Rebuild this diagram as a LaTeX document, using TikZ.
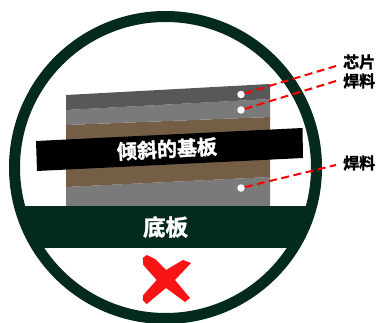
\documentclass[tikz,border=0pt]{standalone}
\usepackage{fontspec}
\setmainfont[FakeBold=1.6]{Noto Sans CJK SC Bold}
\definecolor{ringgreen}{HTML}{04291D}
\definecolor{chipgray}{HTML}{585858}
\definecolor{soldergray}{HTML}{7A7A7A}
\definecolor{copperbrown}{HTML}{745E46}
\definecolor{crossred}{HTML}{F81414}
\tikzset{
  dotnode/.style={draw=none,circle,fill=white,inner sep=0pt,minimum size=7.5pt},
  calloutlabel/.style={font=\fontsize{16}{16}\selectfont,text=black,inner sep=0pt,anchor=west},
  whitelabel/.style={text=white,inner sep=0pt},
  leaderline/.style={red,line width=2pt,dash pattern=on 8pt off 4.5pt}
}
\begin{document}
\begin{tikzpicture}[x=1pt,y=-1pt]
  \useasboundingbox (0,0) rectangle (377,323);
   \coordinate (Centre) at (165.5,167.5);
   \coordinate (ChipEnd) at (336,66);
   \coordinate (TopEnd) at (336,81);
   \coordinate (LowEnd) at (336,165);
% layers of the stack
  \fill[soldergray] (66,187) -- (270,177) -- (270,206) -- (66,206) -- cycle;
  \fill[copperbrown] (66,125) -- (270,117) -- (270,177) -- (66,187) -- cycle;
  \fill[soldergray] (66,110) -- (270,99) -- (270,117) -- (66,125) -- cycle;
  \fill[chipgray] (66,95) -- (270,84) -- (270,99) -- (66,110) -- cycle;
% ring and base
  \begin{scope}
    \clip (Centre) circle (151);
    \fill[ringgreen] (0,206) rectangle (377,248);
  \end{scope}
  \draw[ringgreen,line width=11pt] (Centre) circle (151);
% tilted bar
  \fill[black] (36,141) -- (302.5,128) -- (303,158) -- (37,171) -- cycle;
  \node[whitelabel,font=\fontsize{20}{20}\selectfont,rotate=3] (Tilted) at (167,149) {倾斜的基板};
  \node[whitelabel,font=\fontsize{22.5}{22.5}\selectfont] (Base) at (165.5,227) {底板};
% cross
  \fill[crossred] (142.7,258) -- (146.7,255) -- (155,259) -- (166,270) -- (183,260)
    -- (191,263) -- (175,280) -- (190,298) -- (185,302) -- (166,288) -- (146.7,304)
    -- (142.7,300) -- (143.3,295) -- (156.7,280) -- (143.3,265) -- cycle;
% callouts
  \node[dotnode] (ChipDot) at (241,94.5) {};
  \node[dotnode] (TopDot) at (241,110) {};
  \node[dotnode] (LowDot) at (241,188) {};
  \node[calloutlabel] (ChipLabel) at (343,62) {芯片};
  \node[calloutlabel] (TopLabel) at (343,81) {焊料};
  \node[calloutlabel] (LowLabel) at (343,163) {焊料};
  \foreach \a/\b in {ChipDot/ChipEnd,TopDot/TopEnd,LowDot/LowEnd}{%
    \draw[leaderline] (\a) -- (\b);
  }
\end{tikzpicture}
\end{document}
